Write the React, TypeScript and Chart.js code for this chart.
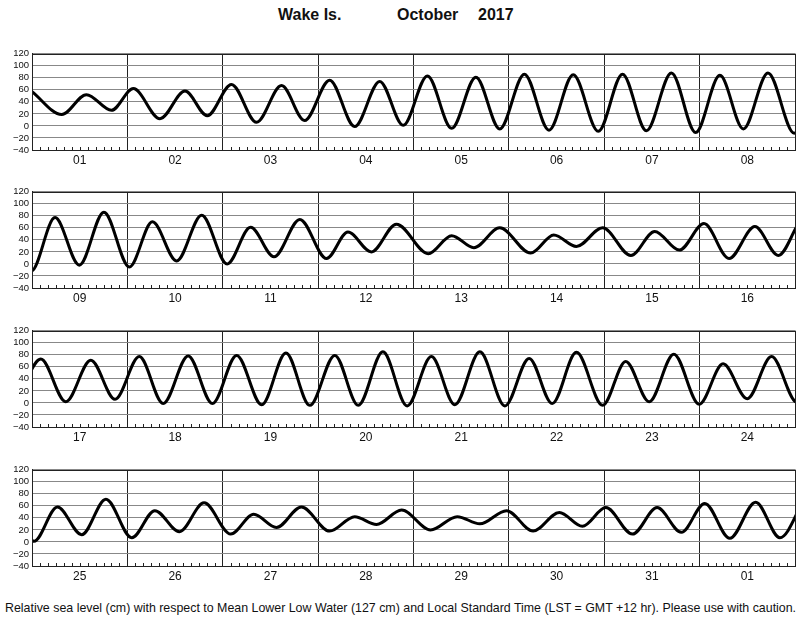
import React, { useEffect, useRef } from 'react';
import { Chart, registerables } from 'chart.js';

Chart.register(...registerables);

const TITLE_PLACE = 'Wake Is.';
const TITLE_MONTH = 'October';
const TITLE_YEAR = '2017';
const FOOTER =
  'Relative sea level (cm) with respect to Mean Lower Low Water (127 cm) and Local Standard Time (LST = GMT +12 hr). Please use with caution.';

// High / low water turning points: hours since 1 Oct 00:00 LST, and level (cm)
const hours = [
  0, 7.5, 13.7, 20.0, 25.5, 32.2, 38.5, 44.1, 50.2, 56.5, 62.8, 68.6, 74.9, 81.2, 87.5, 93.4,
  99.5, 105.6, 111.7, 117.7, 123.9, 130.1, 136.2, 142.5, 148.6, 154.6, 160.9, 167.0, 173.1, 179.0, 185.2, 191.8,
  197.8, 203.9, 210.1, 216.5, 222.3, 228.4, 234.7, 241.1, 247.0, 252.9, 259.4, 266.1, 271.5, 277.4, 283.7,
  291.7, 297.6, 303.2, 309.7, 317.5, 323.3, 329.0, 335.6, 342.7, 348.7, 354.9, 361.1, 367.4, 373.9, 379.8,
  386.2, 392.5, 398.8, 404.9, 411.0, 417.0, 423.3, 429.4, 435.5, 441.8, 447.9, 453.9, 460.2, 466.1, 472.3, 478.4,
  484.5, 490.4, 496.7, 503.0, 509.1, 514.9, 521.0, 527.6, 533.4, 539.3, 545.5, 551.9, 557.9, 564.0, 570.1, 576.5,
  582.4, 588.5, 594.6, 601.1, 606.9, 613.1, 619.3, 626.0, 631.8, 637.5, 643.8, 650.9, 657.2, 662.7, 669.0,
  676.3, 683.0, 688.7, 695.4, 702.1, 708.7, 714.5, 720.4, 727.1, 733.3, 739.4, 745.3, 751.6, 758.1, 764.2, 770.3,
];
const levels = [
  57, 19, 52, 26, 62, 12, 58, 17, 69, 6, 67, 9, 76, -1, 74, 1,
  83, -4, 81, -5, 86, -7, 85, -9, 86, -8, 88, -11, 84, -5, 88, -12,
  77, -2, 86, -5, 70, 5, 81, 0, 61, 12, 74, 9, 53, 20, 66,
  17, 47, 27, 60, 18, 48, 29, 60, 14, 54, 23, 67, 9, 62, 14,
  73, 2, 71, 6, 77, -1, 78, -1, 79, -3, 83, -4, 79, -4, 85, -5,
  77, -3, 85, -5, 74, -1, 84, -4, 69, 2, 81, -2, 65, 7, 77, 1,
  58, 12, 71, 7, 52, 17, 65, 13, 46, 24, 58, 18, 42, 29, 53,
  20, 42, 30, 52, 18, 49, 26, 57, 13, 57, 16, 64, 6, 66, 7, 70,
];

const dayLabels = [
  '01', '02', '03', '04', '05', '06', '07', '08', '09', '10', '11', '12', '13', '14', '15', '16',
  '17', '18', '19', '20', '21', '22', '23', '24', '25', '26', '27', '28', '29', '30', '31', '01',
];
const yTicks = [-40, -20, 0, 20, 40, 60, 80, 100, 120];
const panelStartDays = [0, 8, 16, 24];
const panelTops = [51, 189, 328, 467];
const DAYS_PER_PANEL = 8;

const FONT = '"Liberation Sans", Arial, Helvetica, sans-serif';

const framePlugin = {
  id: 'frame',
  beforeDatasetsDraw(chart: any) {
    const { ctx, chartArea, scales } = chart;
    const xs = scales.x;
    ctx.save();
    ctx.strokeStyle = '#222';
    ctx.lineWidth = 1;
    ctx.beginPath();
    for (let v = xs.min; v <= xs.max; v += 2) {
      if (v % 24 === 0) continue;
      const px = Math.round(xs.getPixelForValue(v)) + 0.5;
      ctx.moveTo(px, chartArea.bottom);
      ctx.lineTo(px, chartArea.bottom - 3);
    }
    ctx.stroke();
    ctx.restore();
  },
  afterDatasetsDraw(chart: any) {
    const { ctx, chartArea } = chart;
    ctx.save();
    ctx.strokeStyle = '#222';
    ctx.lineWidth = 1;
    ctx.strokeRect(
      Math.round(chartArea.left) + 0.5,
      Math.round(chartArea.top) + 0.5,
      Math.round(chartArea.right - chartArea.left),
      Math.round(chartArea.bottom - chartArea.top)
    );
    ctx.restore();
  },
};

function Panel({ startDay, top }: { startDay: number; top: number }) {
  const ref = useRef<HTMLCanvasElement>(null);
  useEffect(() => {
    const minX = startDay * 24;
    const maxX = (startDay + DAYS_PER_PANEL) * 24;
    const data = hours.map((h, i) => ({ x: h, y: levels[i] }));
    const chart = new Chart(ref.current as HTMLCanvasElement, {
      type: 'line',
      data: {
        datasets: [
          {
            data,
            borderColor: '#000',
            borderWidth: 3,
            pointRadius: 0,
            cubicInterpolationMode: 'monotone',
            fill: false,
          } as any,
        ],
      },
      options: {
        animation: false,
        responsive: false,
        maintainAspectRatio: false,
        events: [],
        layout: { padding: { top: 6, right: 5, left: 0, bottom: 0 } },
        plugins: {
          legend: { display: false },
          tooltip: { enabled: false },
          title: { display: false },
        },
        scales: {
          x: {
            type: 'linear',
            min: minX,
            max: maxX,
            afterBuildTicks: (s: any) => {
              const t: any[] = [];
              for (let v = minX; v <= maxX; v += 2) t.push({ value: v });
              s.ticks = t;
            },
            afterFit: (s: any) => {
              s.height = 20;
            },
            ticks: {
              autoSkip: false,
              maxRotation: 0,
              minRotation: 0,
              padding: 3,
              color: '#111',
              font: { family: FONT, size: 12 },
              callback: (v: any) => (v % 24 === 12 ? dayLabels[Math.floor(v / 24)] : ''),
            },
            grid: {
              drawTicks: false,
              lineWidth: 1,
              color: (c: any) => (c.tick && c.tick.value % 24 === 0 ? '#222' : 'rgba(0,0,0,0)'),
            },
            border: { display: true, color: '#222', width: 1 },
          },
          y: {
            min: -40,
            max: 120,
            afterBuildTicks: (s: any) => {
              s.ticks = yTicks.map((v) => ({ value: v }));
            },
            afterFit: (s: any) => {
              s.width = 32;
            },
            ticks: {
              autoSkip: false,
              padding: 3,
              color: '#111',
              font: { family: FONT, size: 9.5 },
              callback: (v: any) => (v < 0 ? '\u2212' + Math.abs(v) : String(v)),
            },
            grid: { drawTicks: false, color: '#888', lineWidth: 1 },
            border: { display: true, color: '#222', width: 1 },
          },
        },
      } as any,
      plugins: [framePlugin],
    });
    return () => chart.destroy();
  }, [startDay]);
  return (
    <canvas
      ref={ref}
      width={800}
      height={125}
      style={{ position: 'absolute', left: 0, top: top - 6, width: 800, height: 125 }}
    />
  );
}

export default function App() {
  const titleStyle: React.CSSProperties = {
    position: 'absolute',
    top: 7,
    fontFamily: FONT,
    fontWeight: 'bold',
    fontSize: 16,
    lineHeight: '16px',
    color: '#111',
    whiteSpace: 'nowrap',
  };
  return (
    <div
      style={{
        position: 'absolute',
        left: 0,
        top: 0,
        width: 800,
        height: 618,
        background: '#fff',
        overflow: 'hidden',
      }}
    >
      <div style={{ ...titleStyle, left: 278 }}>{TITLE_PLACE}</div>
      <div style={{ ...titleStyle, left: 397 }}>{TITLE_MONTH}</div>
      <div style={{ ...titleStyle, left: 478 }}>{TITLE_YEAR}</div>
      {panelStartDays.map((d, i) => (
        <Panel key={d} startDay={d} top={panelTops[i]} />
      ))}
      <div
        style={{
          position: 'absolute',
          left: 5,
          top: 602,
          fontFamily: FONT,
          fontSize: 12.4,
          lineHeight: '12px',
          color: '#111',
          whiteSpace: 'nowrap',
        }}
      >
        {FOOTER}
      </div>
    </div>
  );
}
